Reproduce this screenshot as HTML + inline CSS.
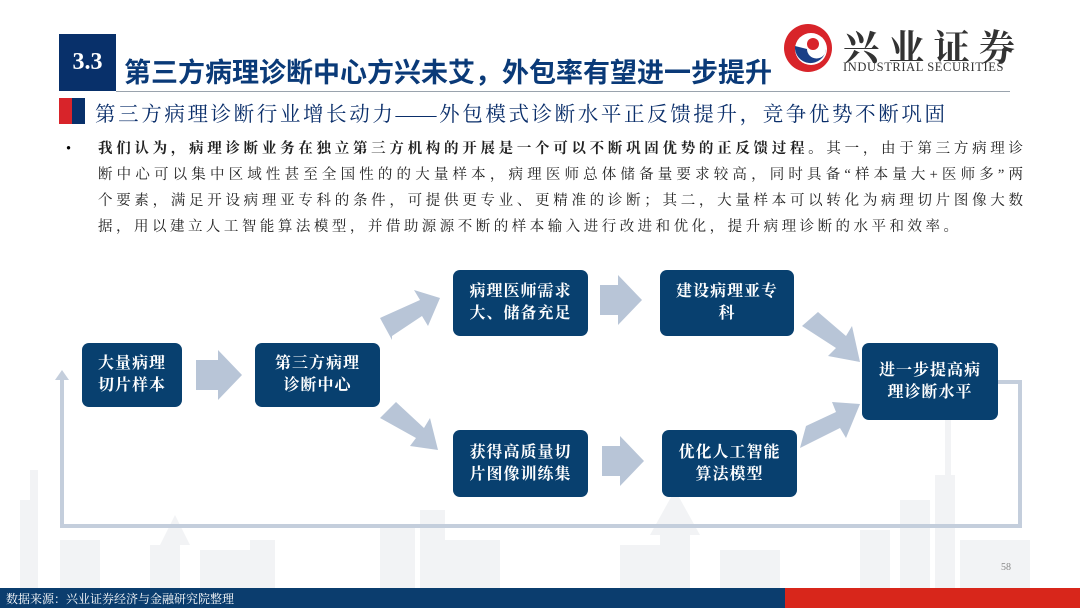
<!DOCTYPE html>
<html><head><meta charset="utf-8"><style>
body{margin:0;width:1080px;height:608px;overflow:hidden;background:#fff;position:relative;font-family:"Liberation Serif","Noto Serif CJK SC",serif;}
.a{position:absolute;}
.box{position:absolute;background:#08406f;border-radius:7px;color:#fff;font-weight:bold;font-size:16px;line-height:22px;display:flex;align-items:center;justify-content:center;text-align:center;letter-spacing:1px;}
.t{font-size:14.5px;line-height:26px;color:#222;width:925px;white-space:nowrap;text-align:justify;text-align-last:justify;}
.j{text-align:justify;text-align-last:justify;white-space:nowrap;}
</style></head><body>
<svg class="a" style="left:0;top:0" width="1080" height="608">
<g fill="#f2f3f5">
<rect x="20" y="500" width="15" height="88"/><rect x="30" y="470" width="8" height="118"/><rect x="60" y="540" width="40" height="48"/><rect x="150" y="545" width="30" height="43"/><polygon points="160,545 175,515 190,545"/><rect x="200" y="550" width="60" height="38"/><rect x="250" y="540" width="25" height="48"/><rect x="380" y="525" width="35" height="63"/><rect x="420" y="510" width="25" height="78"/><rect x="440" y="540" width="60" height="48"/><rect x="620" y="545" width="60" height="43"/><rect x="660" y="535" width="30" height="53"/><polygon points="650,535 675,490 700,535"/><rect x="720" y="550" width="60" height="38"/><rect x="860" y="530" width="30" height="58"/><rect x="900" y="500" width="30" height="88"/><rect x="935" y="475" width="20" height="113"/><rect x="945" y="420" width="6" height="60"/><rect x="960" y="540" width="70" height="48"/></g>
<line x1="116" y1="91.5" x2="1010" y2="91.5" stroke="#9aa3ad" stroke-width="1"/>
<g fill="none" stroke="#c4cedc" stroke-width="4">
<polyline points="998,382 1020,382 1020,526 62,526 62,378"/>
</g>
<polygon points="55,380 62,370 69,380" fill="#c4cedc"/>
<g fill="#b8c5d7">
<polygon points="196,360 218,360 218,350 242,375 218,400 218,390 196,390"/>
<polygon points="600,285 618,285 618,275 642,300 618,325 618,315 600,315"/>
<polygon points="602,446 620,446 620,436 644,461 620,486 620,476 602,476"/>
<polygon points="392,340 380,318 420,300 414,290 440,298 428,326 422,316 392,336"/>
<polygon points="380,418 396,402 424,428 430,418 438,450 410,446 416,438"/>
<polygon points="802,326 818,312 846,336 852,326 860,362 828,356 836,348"/>
<polygon points="806,426 800,448 840,428 846,438 860,404 832,402 836,412"/>
</g>
</svg>
<div class="a" style="left:59px;top:34px;width:57px;height:57px;background:#08306a;color:#fff;font:bold 24px 'Liberation Serif',serif;display:flex;align-items:center;justify-content:center;">3.3</div>
<div class="a j" style="left:124px;top:51px;width:646px;font:bold 27px 'Liberation Sans','Noto Sans CJK SC',sans-serif;color:#0a3a78;">第三方病理诊断中心方兴未艾，外包率有望进一步提升</div>
<svg class="a" style="left:782px;top:22px" width="52" height="52"><circle cx="26" cy="26" r="24" fill="#d8242a"/><circle cx="29" cy="27" r="16" fill="#fff"/><path d="M13,24 A15,15 0 1 0 44,27 A9,9 0 0 1 25,27 Z" fill="#1a3f87"/><circle cx="31" cy="22" r="6" fill="#d8242a"/></svg>
<div class="a j" style="left:843px;top:20px;width:172px;font:bold 36px 'Noto Serif CJK SC',serif;color:#333;">兴业证券</div>
<div class="a" style="left:843px;top:60px;font:12.5px 'Liberation Serif',serif;color:#333;letter-spacing:0.6px;white-space:nowrap;">INDUSTRIAL SECURITIES</div>
<div class="a" style="left:59px;top:98px;width:13px;height:26px;background:#d8242a"></div>
<div class="a" style="left:72px;top:98px;width:13px;height:26px;background:#08306a"></div>
<div class="a j" style="left:95px;top:97px;width:850px;font-size:20.5px;color:#0a2e6a;">第三方病理诊断行业增长动力——外包模式诊断水平正反馈提升，竞争优势不断巩固</div>
<div class="a" style="left:66px;top:136px;font-size:14.5px;line-height:26px;">•</div>
<div class="a t" style="left:98px;top:136px;"><b>我们认为，病理诊断业务在独立第三方机构的开展是一个可以不断巩固优势的正反馈过程。</b>其一，由于第三方病理诊</div>
<div class="a t" style="left:98px;top:162px;">断中心可以集中区域性甚至全国性的的大量样本，病理医师总体储备量要求较高，同时具备“样本量大+医师多”两</div>
<div class="a t" style="left:98px;top:188px;">个要素，满足开设病理亚专科的条件，可提供更专业、更精准的诊断；其二，大量样本可以转化为病理切片图像大数</div>
<div class="a t" style="left:98px;top:214px;width:860px;">据，用以建立人工智能算法模型，并借助源源不断的样本输入进行改进和优化，提升病理诊断的水平和效率。</div>
<div class="box" style="left:82px;top:343px;width:100px;height:64px;">大量病理<br>切片样本</div>
<div class="box" style="left:255px;top:343px;width:125px;height:64px;">第三方病理<br>诊断中心</div>
<div class="box" style="left:453px;top:270px;width:135px;height:66px;">病理医师需求<br>大、储备充足</div>
<div class="box" style="left:660px;top:270px;width:134px;height:66px;">建设病理亚专<br>科</div>
<div class="box" style="left:453px;top:430px;width:135px;height:67px;">获得高质量切<br>片图像训练集</div>
<div class="box" style="left:662px;top:430px;width:135px;height:67px;">优化人工智能<br>算法模型</div>
<div class="box" style="left:862px;top:343px;width:136px;height:77px;">进一步提高病<br>理诊断水平</div>
<div class="a" style="left:1001px;top:562px;font-size:10px;color:#888;">58</div>
<div class="a" style="left:0;top:588px;width:785px;height:20px;background:#0b3d6e;"></div>
<div class="a" style="left:785px;top:588px;width:295px;height:20px;background:#d8261b;"></div>
<div class="a" style="left:6px;top:590px;font-size:12px;color:#fff;white-space:nowrap;">数据来源：兴业证券经济与金融研究院整理</div>
</body></html>
